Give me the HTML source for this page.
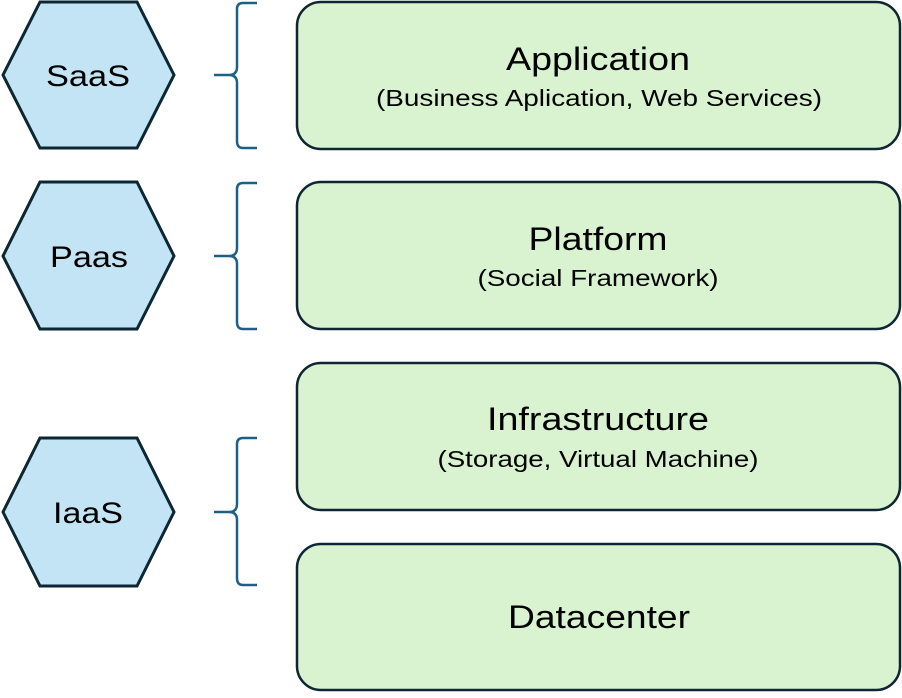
<!DOCTYPE html>
<html><head><style>
body{margin:0;background:#fff;width:902px;height:693px;overflow:hidden}
svg text{font-family:"Liberation Sans",sans-serif;fill:#000}
</style></head><body>
<svg width="902" height="693" xmlns="http://www.w3.org/2000/svg">
<g fill="#c3e4f4" stroke="#0c2633" stroke-width="3">
<polygon points="40,2 137,2 174,75 137,148 40,148 3,75"/>
<polygon points="40,182 137,182 174,256 137,329 40,329 3,256"/>
<polygon points="40,438 137,438 174,512 137,586 40,586 3,512"/>
</g>
<g font-size="30" text-anchor="middle" lengthAdjust="spacingAndGlyphs">
<text x="88" y="86" textLength="84" lengthAdjust="spacingAndGlyphs">SaaS</text>
<text x="89" y="267" textLength="78" lengthAdjust="spacingAndGlyphs">Paas</text>
<text x="88" y="523" textLength="70" lengthAdjust="spacingAndGlyphs">IaaS</text>
</g>
<g fill="none" stroke="#1c6185" stroke-width="2.5">
<path d="M257,3 H243 Q237,3 237,9 V67 Q237,75 229,75 H214 M229,75 Q237,75 237,83 V141 Q237,148 243,148 H257"/>
<path d="M257,183 H243 Q237,183 237,189 V248 Q237,256 229,256 H214 M229,256 Q237,256 237,264 V322 Q237,329 243,329 H257"/>
<path d="M257,438 H243 Q237,438 237,444 V504 Q237,512 229,512 H214 M229,512 Q237,512 237,520 V578 Q237,585 243,585 H257"/>
</g>
<g fill="#d9f2d0" stroke="#0c2633" stroke-width="2.5">
<rect x="297" y="2" width="603" height="147" rx="24"/>
<rect x="297" y="182" width="603" height="147" rx="24"/>
<rect x="297" y="363" width="603" height="147" rx="24"/>
<rect x="297" y="544" width="603" height="146" rx="24"/>
</g>
<g text-anchor="middle">
<text x="598" y="70" font-size="32" textLength="184" lengthAdjust="spacingAndGlyphs">Application</text>
<text x="599" y="106" font-size="23" textLength="446" lengthAdjust="spacingAndGlyphs">(Business Aplication, Web Services)</text>
<text x="598" y="250" font-size="32" textLength="139" lengthAdjust="spacingAndGlyphs">Platform</text>
<text x="598" y="286" font-size="23" textLength="241" lengthAdjust="spacingAndGlyphs">(Social Framework)</text>
<text x="598" y="430" font-size="32" textLength="222" lengthAdjust="spacingAndGlyphs">Infrastructure</text>
<text x="598" y="467" font-size="23" textLength="321" lengthAdjust="spacingAndGlyphs">(Storage, Virtual Machine)</text>
<text x="599" y="628" font-size="32" textLength="182" lengthAdjust="spacingAndGlyphs">Datacenter</text>
</g>
</svg>
</body></html>
